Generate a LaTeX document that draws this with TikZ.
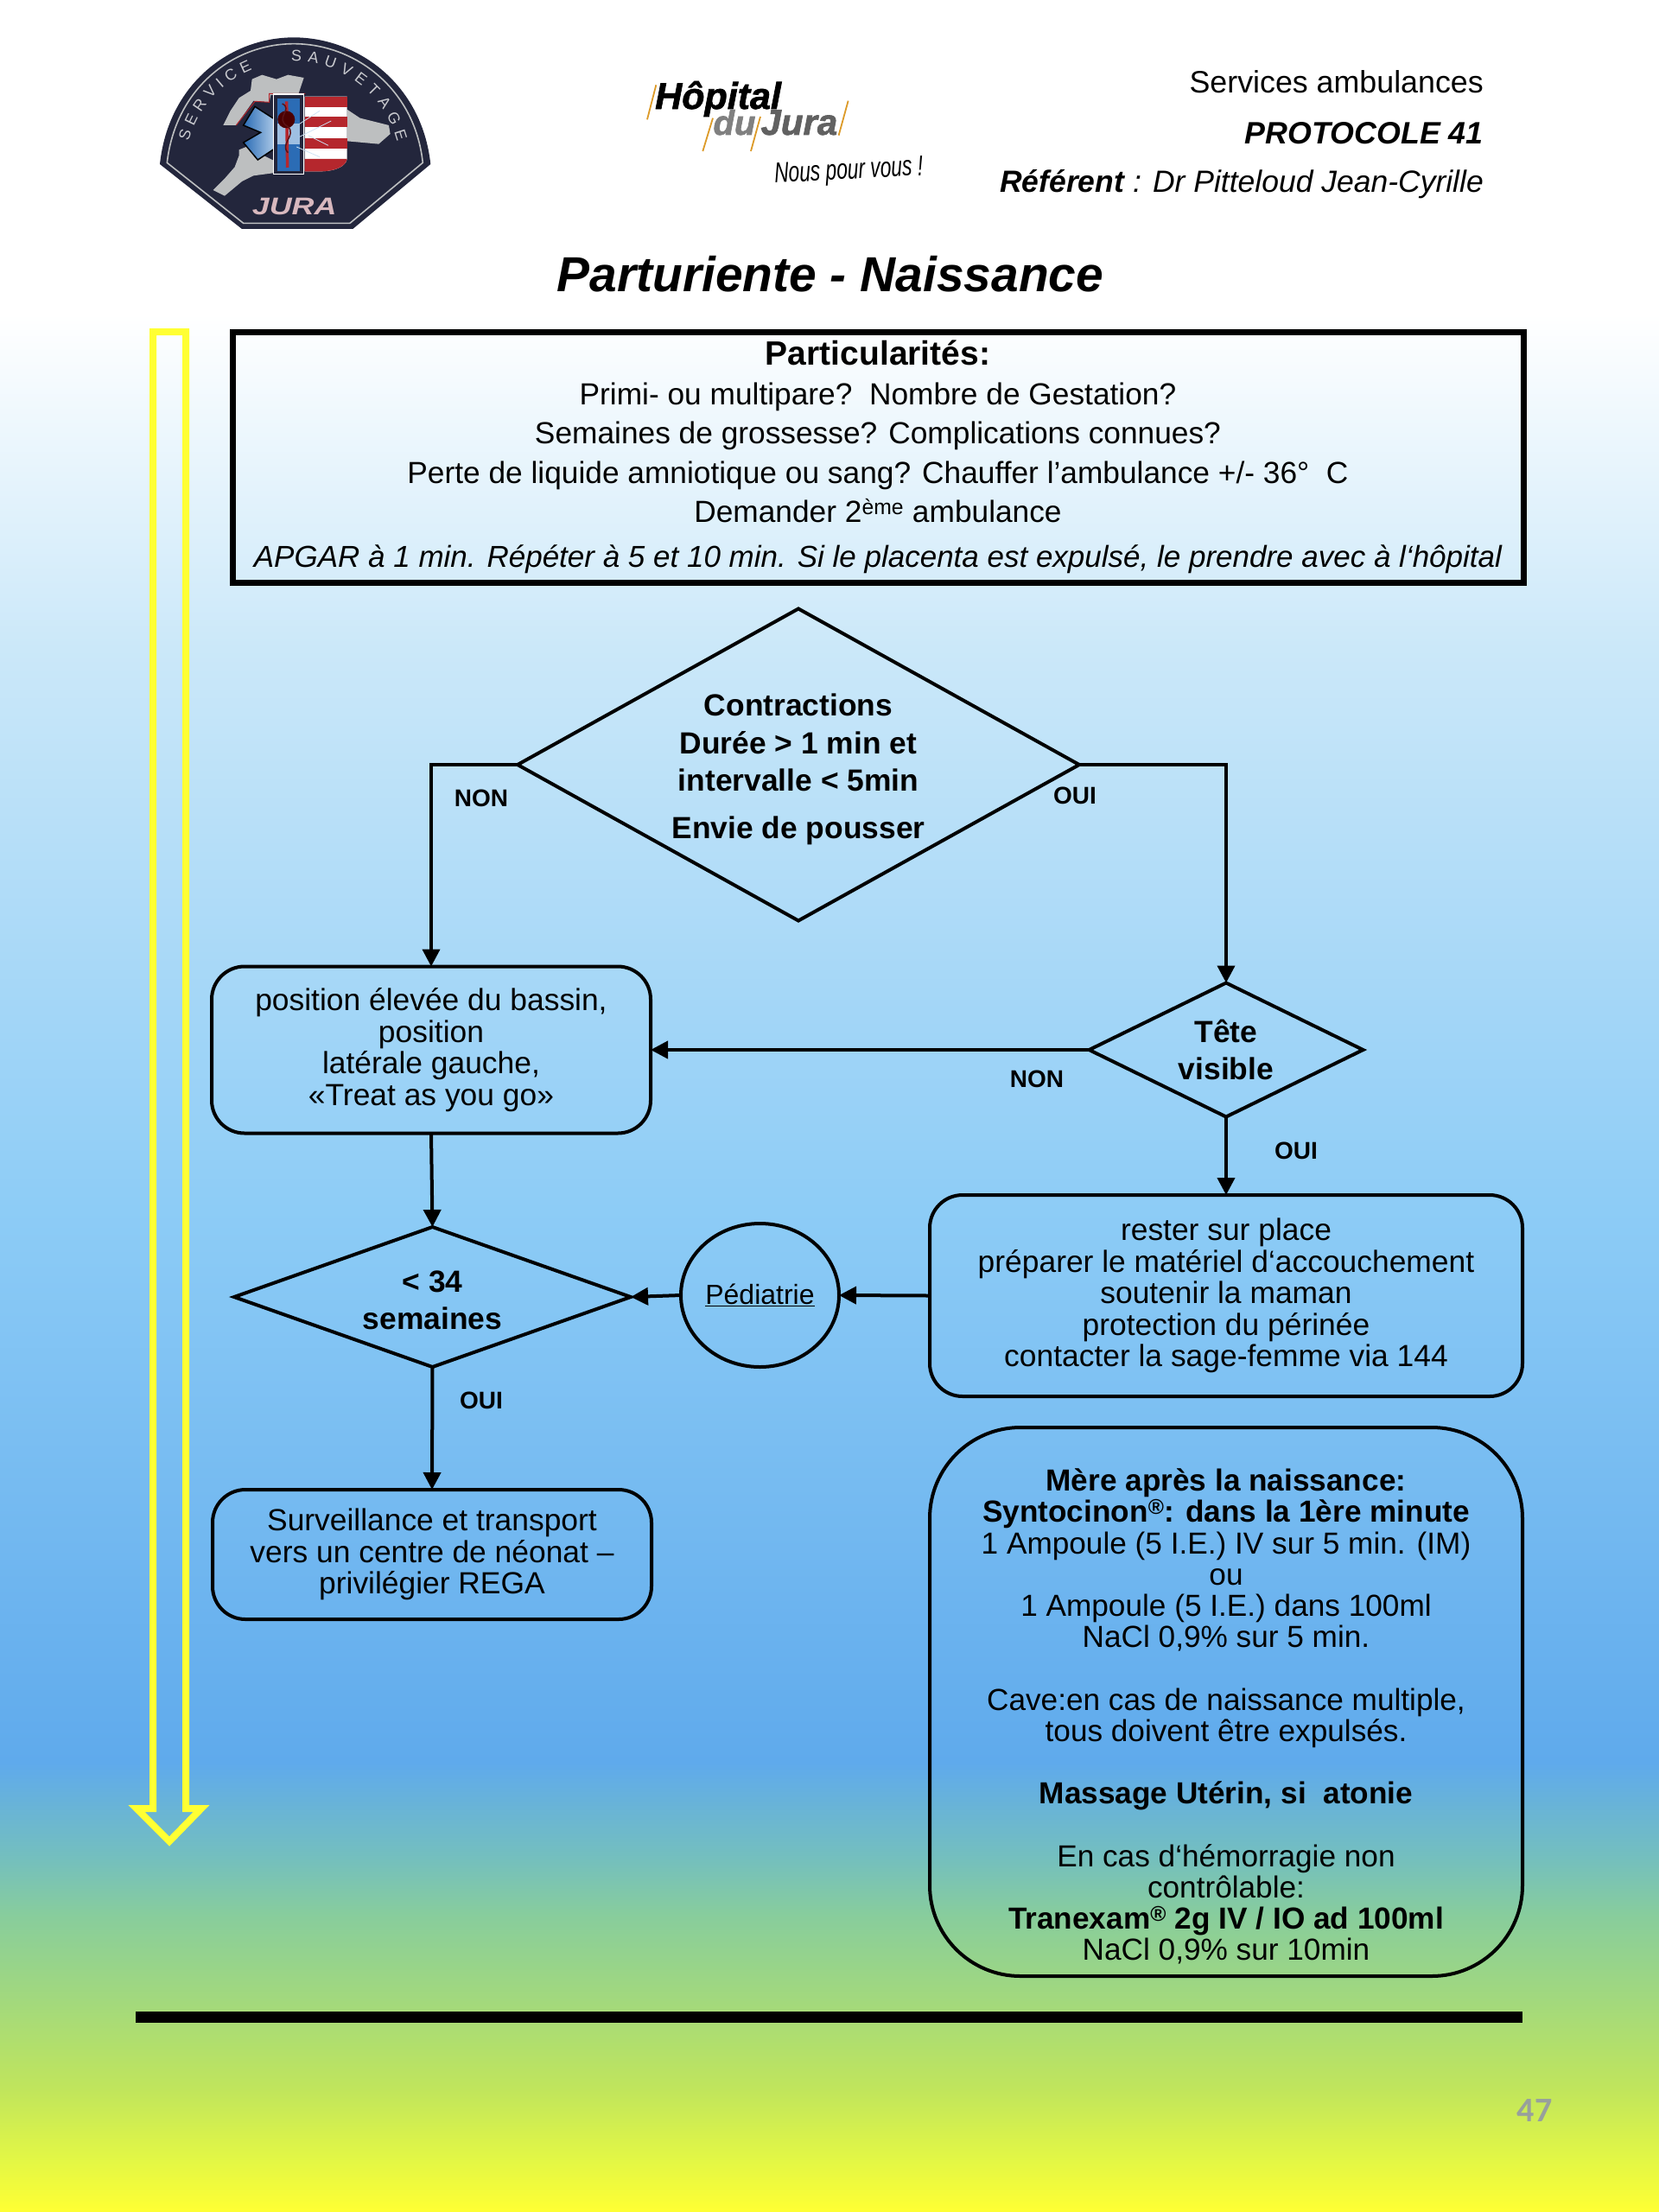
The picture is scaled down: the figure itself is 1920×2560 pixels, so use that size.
\documentclass[tikz,border=0pt]{standalone}
\usepackage{fontspec}
\usepackage{graphicx}
\setmainfont{Liberation Sans}
\newfontfamily\carl{Carlito}
\newfontfamily\logoheavy{Liberation Sans}[BoldItalicFeatures={FakeBold=1.6}]
\usetikzlibrary{shapes.geometric,arrows.meta,decorations.text}
\definecolor{bgA}{HTML}{FFFFFF}
\definecolor{bgB}{HTML}{CBE8F9}
\definecolor{bgC}{HTML}{8DCCF6}
\definecolor{bgD}{HTML}{5FAAEC}
\definecolor{bgE}{HTML}{74BFBE}
\definecolor{bgF}{HTML}{88CD9C}
\definecolor{bgG}{HTML}{A3D97C}
\definecolor{bgH}{HTML}{C0E55C}
\definecolor{bgI}{HTML}{E3F745}
\definecolor{bgJ}{HTML}{FFFF33}
\definecolor{navy}{HTML}{23263C}
\definecolor{logogrey}{HTML}{BDBFC0}
\definecolor{logotext}{HTML}{C9CACF}
\definecolor{logopink}{HTML}{D8B8BE}
\definecolor{logored}{HTML}{B5272D}
\definecolor{logoblue}{HTML}{2B6CB5}
\definecolor{logopale}{HTML}{CFE3F5}
\definecolor{orangeline}{HTML}{DC9A28}
\definecolor{arrowyellow}{HTML}{FFFF33}
\definecolor{pagegrey}{HTML}{98A09C}
\pgfdeclareverticalshading{pagebg}{100bp}{color(0bp)=(bgJ); color(25bp)=(bgJ); color(26.17bp)=(bgI); color(27.79bp)=(bgH); color(29.75bp)=(bgG); color(31.70bp)=(bgF); color(33.01bp)=(bgE); color(35.16bp)=(bgD); color(47.66bp)=(bgC); color(60.35bp)=(bgB); color(67.91bp)=(bgA); color(100bp)=(bgA)}
\newcommand{\myfs}[2]{\fontsize{#1}{#2}\selectfont}
\tikzset{
  shapeline/.style={draw=black,line width=4pt,inner sep=0pt,outer sep=0pt,align=center},
  stepbox/.style={shapeline,rectangle,rounded corners=38pt,font=\myfs{35.4}{36.6}},
  decide/.style={shapeline,diamond,font=\myfs{35.4}{43.5}\bfseries},
  conn/.style={line width=4pt,-{Triangle[length=20pt,width=20pt]}},
  tag/.style={font=\myfs{28}{30}\bfseries,inner sep=0pt},
  hdr/.style={font=\myfs{35.8}{38},anchor=east,inner sep=0pt},
  badgetext/.style={decorate,decoration={text along path,text={|\myfs{18}{20}\color{logotext}|#1},text align={fit to path}}}
}
\begin{document}
\begin{tikzpicture}[x=1pt,y=-1pt]
\useasboundingbox (0,0) rectangle (1920,2560);
\fill[shading=pagebg] (0,0) rectangle (1920,2560);

% --- ambulance badge
\begin{scope}[shift={(170,30)},x=0.3333pt,y=-0.3333pt]
  \fill[navy] (45,480) .. controls (75,200) and (290,40) .. (510,40) .. controls (730,40) and (955,200) .. (985,480) -- (715,705) -- (330,705) -- cycle;
  \draw[logogrey,line width=1.6pt] (70,475) .. controls (100,215) and (300,62) .. (510,62) .. controls (720,62) and (930,215) .. (958,475) -- (705,685) -- (335,685) -- cycle;
  \fill[logogrey] (365,185) -- (400,170) -- (450,185) -- (490,170) -- (545,180) -- (525,240) -- (430,240) -- (425,265) -- (370,260) -- (310,345) -- (265,345) -- (290,295) -- (320,250) -- (360,225) -- cycle;
  \fill[logogrey] (320,430) -- (345,420) -- (445,470) -- (445,510) -- (370,520) -- (330,540) -- (270,590) -- (230,570) -- (270,530) -- (305,490) -- (320,450) -- cycle;
  \fill[logogrey] (695,290) -- (740,320) -- (840,345) -- (845,375) -- (805,410) -- (695,400) -- cycle;
  \draw[logored,line width=1pt] (550,235) -- (425,235) -- (425,265) -- (375,262) -- (310,345);
  \fill[white] (548,245) -- (695,245) -- (695,462) .. controls (690,490) and (650,505) .. (600,505) -- (548,505) -- cycle;
  \fill[logored] (548,245) rectangle (695,283);
  \fill[logored] (548,315) rectangle (695,350);
  \fill[logored] (548,390) rectangle (695,425);
  \fill[logored] (548,462) -- (695,462) .. controls (690,490) and (650,505) .. (600,505) -- (548,505) -- cycle;
  \draw[black,line width=1.5pt,left color=logoblue,right color=logopale] (375,280) -- (445,325) -- (472,370) -- (445,425) -- (385,465) -- (335,405) -- (395,370) -- (335,345) -- cycle;
  \draw[white,line width=1.2pt,fill=navy] (440,237) rectangle (545,515);
  \fill[logoblue] (452,252) rectangle (530,503);
  \fill[logopale!70!logoblue] (452,340) rectangle (530,410);
  \draw[logored,line width=3.5pt] (485,262) -- (488,492);
  \fill[black!70!red] (484,325) ellipse (30 and 30);
  \draw[logored!50!black,line width=1.5pt] (470,270) .. controls (510,290) and (440,320) .. (490,350) .. controls (520,380) and (460,410) .. (490,440);
  \draw[logopale,line width=0.8pt] (530,340) -- (600,295) (530,385) -- (640,330) (520,420) -- (600,455) (560,380) -- (630,415);
  \node[inner sep=0pt,text=logopink,font=\myfs{28}{30}\bfseries\itshape] (jura) at (512,627) {\scalebox{1.28}[1]{JURA}};
\end{scope}
\path[badgetext={SERVICE}] ([shift={(-165:125)}]339,196) arc[start angle=-165,end angle=-112,radius=125];
\path[badgetext={SAUVETAGE}] ([shift={(-91:125)}]339,196) arc[start angle=-91,end angle=-15,radius=125];

% --- hospital logo
\begin{scope}[shift={(730,80)},x=0.3333pt,y=-0.3333pt]
  \draw[orangeline,line width=1.8pt] (88,55) -- (57,175);
  \draw[orangeline,line width=1.8pt] (285,170) -- (250,285);
  \draw[orangeline,line width=1.8pt] (450,165) -- (417,285);
  \draw[orangeline,line width=1.8pt] (755,110) -- (722,230);
  \node[inner sep=0pt,anchor=base west,font=\logoheavy\myfs{43}{45}\bfseries\itshape] (hop) at (84,138) {Hôpital};
  \node[inner sep=0pt,anchor=base west,text=black!50,font=\logoheavy\myfs{40}{43}\bfseries\itshape] (du) at (286,228) {du};
  \node[inner sep=0pt,anchor=base west,text=black!62,font=\logoheavy\myfs{42}{43}\bfseries\itshape] (jur) at (451,228) {Jura};
  \node[inner sep=0pt,rotate=3,font=\myfs{33}{35}\itshape] (nous) at (757,358) {\scalebox{.69}[1]{Nous pour vous !}};
\end{scope}

% --- header text
\node[hdr] (h1) at (1717,95) {Services ambulances};
\node[hdr,font=\myfs{35.8}{38}\bfseries\itshape] (h2) at (1717,154) {PROTOCOLE 41};
\node[hdr,font=\myfs{35.5}{38}\itshape] (h3) at (1717,213) {\textbf{Référent} : Dr Pitteloud Jean-Cyrille};
\node[inner sep=0pt,font=\myfs{56.9}{60}\bfseries\itshape] (title) at (961,317) {Parturiente - Naissance};

% --- yellow time arrow
\draw[arrowyellow,line width=8pt,miter limit=10] (177,384) -- (215,384) -- (215,2093) -- (233,2093) -- (196,2131) -- (158,2093) -- (177,2093) -- cycle;

% --- particularités
\node[draw=black,line width=7pt,rectangle,inner sep=0pt,minimum width=1494pt,minimum height=290pt,align=center,font=\myfs{35.3}{45.5}] (part) at (1016,529)
 {{\myfs{39}{45.5}\bfseries Particularités:}\\
  Primi- ou multipare?~~Nombre de Gestation?\\
  Semaines de grossesse? Complications connues?\\
  Perte de liquide amniotique ou sang? Chauffer l’ambulance +/- 36°~~C\\
  Demander 2\textsuperscript{ème} ambulance\\[6pt]
  \myfs{35}{45.5}\itshape APGAR à 1 min. Répéter à 5 et 10 min. Si le placenta est expulsé, le prendre avec à l‘hôpital};

% --- nodes
\node[decide,shape aspect=1.8,minimum width=650pt,minimum height=361pt] (contr) at (924,885)
 {\rule{0pt}{36pt}Contractions\\Durée > 1 min et\\intervalle < 5min\\[11pt]Envie de pousser};
\node[stepbox,minimum width=508pt,minimum height=193pt] (pos) at (499,1215)
 {position élevée du bassin,\\position\\latérale gauche,\\«Treat as you go»};
\node[decide,shape aspect=2.05,minimum width=317pt,minimum height=155pt] (tete) at (1419,1215) {Tête\\visible};
\node[stepbox,minimum width=686pt,minimum height=233pt] (rester) at (1419,1499.5)
 {rester sur place\\préparer le matériel d‘accouchement\\soutenir la maman\\protection du périnée\\contacter la sage-femme via 144};
\node[shapeline,ellipse,minimum width=183pt,minimum height=166pt,font=\myfs{32}{34}] (pedia) at (879.5,1499) {\underline{Pédiatrie}};
\node[decide,shape aspect=2.83,minimum width=459pt,minimum height=162pt] (sem) at (500.5,1501) {\rule{0pt}{32pt}< 34\\semaines};
\node[stepbox,minimum width=508pt,minimum height=150pt] (surv) at (500,1799)
 {Surveillance et transport\\vers un centre de néonat –\\privilégier REGA};
\node[stepbox,rounded corners=105pt,minimum width=686pt,minimum height=635pt] (mere) at (1419,1969.5) {};
\node[inner sep=0pt,align=center,font=\myfs{35.2}{36.2}] (meretxt) at (1419,1986.5)
 {\textbf{Mère après la naissance:}\\
  \textbf{Syntocinon\textsuperscript{®}: dans la 1ère minute}\\
  1 Ampoule (5 I.E.) IV sur 5 min. (IM)\\
  ou\\
  1 Ampoule (5 I.E.) dans 100ml\\
  NaCl 0,9\% sur 5 min.\\[36.2pt]
  Cave:en cas de naissance multiple,\\
  tous doivent être expulsés.\\[36.2pt]
  \textbf{Massage Utérin, si~~atonie}\\[36.2pt]
  En cas d‘hémorragie non\\
  contrôlable:\\
  \textbf{Tranexam\textsuperscript{®} 2g IV / IO ad 100ml}\\
  NaCl 0,9\% sur 10min};

% --- connectors
\draw[conn] (contr.west) -| (pos.north);
\draw[conn] (contr.east) -| (tete.north);
\draw[conn] (tete.west) -- (pos.east);
\draw[conn] (tete.south) -- (rester.north);
\draw[conn] (rester.west) -- (pedia.east);
\draw[conn] (pedia.west) -- (sem.east);
\draw[conn] (pos.south) -- (sem.north);
\draw[conn] (sem.south) -- (surv.north);

% --- connector labels
\node[tag] (l1) at (557,924) {NON};
\node[tag] (l2) at (1244,921) {OUI};
\node[tag] (l3) at (1200,1249) {NON};
\node[tag] (l4) at (1500,1332) {OUI};
\node[tag] (l5) at (557,1621) {OUI};

% --- rule and page number
\fill[black] (157,2328) rectangle (1762,2341);
\node[inner sep=0pt,text=pagegrey,font=\carl\myfs{40}{42}\bfseries] (pg) at (1776,2442) {47};
\end{tikzpicture}
\end{document}
